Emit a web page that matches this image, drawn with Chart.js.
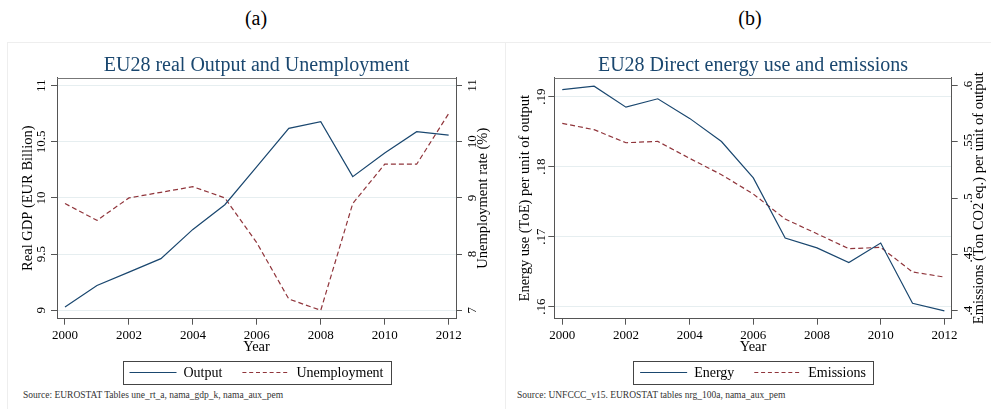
<!DOCTYPE html>
<html>
<head>
<meta charset="utf-8">
<script src="https://cdn.jsdelivr.net/npm/chart.js@4.4.1/dist/chart.umd.min.js"></script>
<style>
  html, body { margin: 0; padding: 0; background: #fff; width: 991px; height: 409px; overflow: hidden; position: relative; }
  .panel { position: absolute; border: 1px solid #eeeeee; box-sizing: border-box; }
  canvas { position: absolute; top: 0; }
  .lbl { position: absolute; font-family: "Liberation Serif"; font-size: 20px; color: #000; transform: translate(-50%, -50%); white-space: nowrap; }
  .src { position: absolute; font-family: "Liberation Serif"; font-size: 9.5px; color: #333; white-space: nowrap; transform: translateY(-50%); }
</style>
</head>
<body>
<div class="panel" style="left:7px; top:42px; width:499px; height:420px;"></div>
<div class="panel" style="left:505px; top:42px; width:520px; height:420px;"></div>
<div class="lbl" style="left:256px; top:18px;">(a)</div>
<div class="lbl" style="left:750px; top:18px;">(b)</div>
<div class="src" style="left:23px; top:395px;">Source: EUROSTAT Tables une_rt_a, nama_gdp_k, nama_aux_pem</div>
<div class="src" style="left:517px; top:395px;">Source: UNFCCC_v15. EUROSTAT tables nrg_100a, nama_aux_pem</div>
<canvas id="ca" width="505" height="409" style="left:0px;"></canvas>
<canvas id="cb" width="486" height="409" style="left:505px;"></canvas>
<script>
// ---------- data ----------
const years = [2000, 2001, 2002, 2003, 2004, 2005, 2006, 2007, 2008, 2009, 2010, 2011, 2012];
const output = [9.03, 9.22, 9.34, 9.46, 9.72, 9.94, 10.28, 10.62, 10.68, 10.19, 10.40, 10.59, 10.56];
const unemployment = [8.9, 8.6, 9.0, 9.1, 9.2, 9.0, 8.2, 7.2, 7.0, 8.9, 9.6, 9.6, 10.5];
const energy = [0.1910, 0.1915, 0.1885, 0.1897, 0.1869, 0.1836, 0.1784, 0.1698, 0.1684, 0.1663, 0.1691, 0.1605, 0.1594];
const emissions = [0.5665, 0.5609, 0.5493, 0.5505, 0.5354, 0.5209, 0.5037, 0.4815, 0.4684, 0.4551, 0.4563, 0.4344, 0.4299];

const yearTicks = [2000, 2002, 2004, 2006, 2008, 2010, 2012];
const gdpTicks = [9, 9.5, 10, 10.5, 11];
const gdpTickLabels = ['9', '9.5', '10', '10.5', '11'];
const unempTicks = [7, 8, 9, 10, 11];
const unempTickLabels = ['7', '8', '9', '10', '11'];
const energyTicks = [0.16, 0.17, 0.18, 0.19];
const energyTickLabels = ['.16', '.17', '.18', '.19'];
const emisTicks = [0.4, 0.45, 0.5, 0.55, 0.6];
const emisTickLabels = ['.4', '.45', '.5', '.55', '.6'];

// ---------- style ----------
const FONT = 'Liberation Serif';
const NAVY = '#1a476f';
const MAROON = '#90353b';
const AXIS = '#555555';
const GRID = '#e6eef0';

const stataText = {
  id: 'stataText',
  afterDraw(chart, args, o) {
    const ctx = chart.ctx, a = chart.chartArea;
    const cx = (a.left + a.right) / 2, cy = (a.top + a.bottom) / 2;
    ctx.save();
    // top border of plot region
    ctx.strokeStyle = '#777';
    ctx.lineWidth = 1;
    ctx.beginPath();
    ctx.moveTo(a.left, Math.round(a.top) + 0.5);
    ctx.lineTo(a.right, Math.round(a.top) + 0.5);
    ctx.stroke();
    ctx.textAlign = 'center';
    ctx.textBaseline = 'middle';
    // title
    ctx.fillStyle = NAVY;
    ctx.font = '20px "' + FONT + '"';
    ctx.fillText(o.title, cx, o.titleY);
    // x title
    ctx.fillStyle = '#000';
    ctx.font = '14.5px "' + FONT + '"';
    ctx.fillText(o.xTitle, cx, o.xTitleY);
    // y titles (both read bottom-to-top)
    [[o.leftTitle, o.leftX], [o.rightTitle, o.rightX]].forEach(([t, x]) => {
      ctx.save();
      ctx.translate(x, cy);
      ctx.rotate(-Math.PI / 2);
      ctx.fillText(t, 0, 0);
      ctx.restore();
    });
    // legend
    ctx.font = '14px "' + FONT + '"';
    const ds = chart.data.datasets;
    const sample = 47, pad = 7, gap = 7, itemGap = 20;
    const widths = ds.map(d => ctx.measureText(d.label).width);
    let total = pad * 2 + ds.length * (sample + gap) + widths.reduce((s, w) => s + w, 0) + itemGap * (ds.length - 1);
    const bx = cx - total / 2, by = o.legendY - 11.5, bh = 23;
    ctx.strokeStyle = '#444';
    ctx.lineWidth = 1;
    ctx.strokeRect(Math.round(bx) + 0.5, Math.round(by) + 0.5, Math.round(total), bh);
    let x = bx + pad;
    ds.forEach((d, i) => {
      ctx.save();
      ctx.strokeStyle = d.borderColor;
      ctx.lineWidth = 1.2;
      ctx.setLineDash(d.borderDash ? [4, 2.8] : []);
      ctx.beginPath();
      ctx.moveTo(x, o.legendY);
      ctx.lineTo(x + sample, o.legendY);
      ctx.stroke();
      ctx.restore();
      x += sample + gap;
      ctx.fillStyle = '#000';
      ctx.textAlign = 'left';
      ctx.fillText(d.label, x, o.legendY + 1);
      x += widths[i] + itemGap;
    });
    ctx.restore();
  }
};

function yScale(pos, min, max, tickVals, tickLabels, width, pad, grid) {
  return {
    type: 'linear',
    position: pos,
    min: min,
    max: max,
    afterBuildTicks: s => { s.ticks = tickVals.map(v => ({ value: v })); },
    afterFit: s => { s.width = width; },
    ticks: {
      autoSkip: false,
      minRotation: 90,
      maxRotation: 90,
      crossAlign: 'center',
      padding: pad,
      color: '#000',
      font: { family: FONT, size: 13 },
      callback: (v, i) => tickLabels[i]
    },
    grid: {
      display: true,
      drawOnChartArea: grid,
      color: GRID,
      lineWidth: 1,
      drawTicks: true,
      tickLength: 6,
      tickColor: AXIS
    },
    border: { display: true, color: AXIS, width: 1 }
  };
}

function makeChart(id, cfg) {
  return new Chart(document.getElementById(id), {
    type: 'line',
    data: {
      datasets: [
        { label: cfg.l1, data: years.map((y, i) => ({ x: y, y: cfg.d1[i] })), yAxisID: 'y', borderColor: NAVY, borderWidth: 1.2, pointRadius: 0, tension: 0, fill: false },
        { label: cfg.l2, data: years.map((y, i) => ({ x: y, y: cfg.d2[i] })), yAxisID: 'y1', borderColor: MAROON, borderWidth: 1.2, borderDash: [5, 3], pointRadius: 0, tension: 0, fill: false }
      ]
    },
    options: {
      responsive: false,
      animation: false,
      devicePixelRatio: 1,
      layout: { padding: { top: 77.7, left: 0, right: 0, bottom: 0 } },
      plugins: {
        legend: { display: false },
        title: { display: false },
        tooltip: { enabled: false },
        stataText: cfg.text
      },
      scales: {
        x: {
          type: 'linear',
          min: 1999.75,
          max: 2012.23,
          afterBuildTicks: s => { s.ticks = yearTicks.map(v => ({ value: v })); },
          afterFit: s => { s.height = 409 - 318.7; },
          ticks: {
            autoSkip: false, maxRotation: 0, minRotation: 0, padding: 3,
            color: '#000', font: { family: FONT, size: 13 },
            callback: v => String(v)
          },
          grid: { display: true, drawOnChartArea: false, drawTicks: true, tickLength: 6, tickColor: AXIS },
          border: { display: true, color: AXIS, width: 1 }
        },
        y: yScale('left', cfg.y.min, cfg.y.max, cfg.y.ticks, cfg.y.labels, cfg.y.width, cfg.y.pad, true),
        y1: yScale('right', cfg.y1.min, cfg.y1.max, cfg.y1.ticks, cfg.y1.labels, cfg.y1.width, cfg.y1.pad, false)
      }
    },
    plugins: [stataText]
  });
}

makeChart('ca', {
  l1: 'Output', l2: 'Unemployment', d1: output, d2: unemployment,
  y: { min: 8.925, max: 11.071, ticks: gdpTicks, labels: gdpTickLabels, width: 57, pad: -2 },
  y1: { min: 6.85, max: 11.14, ticks: unempTicks, labels: unempTickLabels, width: 49, pad: 4 },
  text: { title: 'EU28 real Output and Unemployment', titleY: 65.7, xTitle: 'Year', xTitleY: 347,
          leftTitle: 'Real GDP (EUR Billion)', leftX: 28.3, rightTitle: 'Unemployment rate (%)', rightX: 483.3, legendY: 372.5 }
});

makeChart('cb', {
  l1: 'Energy', l2: 'Emissions', d1: energy, d2: emissions,
  y: { min: 0.15829, max: 0.19271, ticks: energyTicks, labels: energyTickLabels, width: 49.3, pad: -1.5 },
  y1: { min: 0.3929, max: 0.6071, ticks: emisTicks, labels: emisTickLabels, width: 39.3, pad: 2.5 },
  text: { title: 'EU28 Direct energy use and emissions', titleY: 65.7, xTitle: 'Year', xTitleY: 347,
          leftTitle: 'Energy use (ToE) per unit of output', leftX: 20, rightTitle: 'Emissions (Ton CO2 eq.) per unit of output', rightX: 474, legendY: 372.5 }
});
</script>
</body>
</html>
